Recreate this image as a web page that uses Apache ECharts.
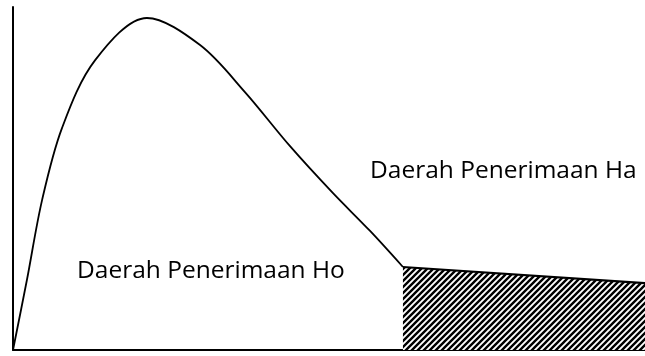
<!DOCTYPE html>
<html>
<head>
<meta charset="utf-8">
<script src="https://cdn.jsdelivr.net/npm/echarts@6/dist/echarts.min.js"></script>
<style>
  html, body { margin: 0; padding: 0; background: #fff; }
  #chart { width: 645px; height: 356px; }
</style>
</head>
<body>
<div id="chart"></div>
<script>
// kurva distribusi (skala 0-100)
const curveX = [0, 2.2, 4.6, 7.75, 13.0, 21.2, 29.6, 36.7, 43.8, 50.6, 56.5, 61.7];
const curveY = [0, 20.4, 43.7, 64.7, 84.5, 96.8, 88.9, 75.2, 59.5, 45.8, 34.7, 24.2];
// daerah kritis (diarsir)
const tailX = [61.7, 100];
const tailY = [24.2, 19.5];
const labels = ['Daerah Penerimaan Ho', 'Daerah Penerimaan Ha'];

// pola arsir miring
function hatch() {
  const c = document.createElement('canvas');
  c.width = 6; c.height = 6;
  const g = c.getContext('2d');
  g.fillStyle = '#fff';
  g.fillRect(0, 0, 6, 6);
  g.strokeStyle = '#000';
  g.lineWidth = 2.4;
  g.beginPath();
  g.moveTo(-3, 9); g.lineTo(9, -3);
  g.moveTo(-9, 9); g.lineTo(3, -3);
  g.moveTo(3, 9); g.lineTo(15, -3);
  g.stroke();
  return c;
}

const chart = echarts.init(document.getElementById('chart'));
chart.setOption({
  animation: false,
  grid: {left: 13, right: 0, top: 7, bottom: 6},
  xAxis: {
    type: 'value', min: 0, max: 100,
    axisLine: {onZero: false, lineStyle: {color: '#000', width: 2}},
    axisTick: {show: false}, axisLabel: {show: false}, splitLine: {show: false}
  },
  yAxis: {
    type: 'value', min: 0, max: 100,
    axisLine: {show: true, lineStyle: {color: '#000', width: 2}},
    axisTick: {show: false}, axisLabel: {show: false}, splitLine: {show: false}
  },
  series: [
    {
      type: 'line', smooth: 0.33, symbol: 'none',
      lineStyle: {color: '#000', width: 1.8},
      data: curveX.map((x, i) => [x, curveY[i]])
    },
    {
      type: 'line', symbol: 'none',
      lineStyle: {color: '#000', width: 2.2},
      areaStyle: {color: {image: hatch(), repeat: 'repeat'}, opacity: 1},
      data: tailX.map((x, i) => [x, tailY[i]])
    }
  ],
  graphic: [
    {type: 'text', x: 77, y: 271.5, style: {text: labels[0], font: '24.5px "Open Sans"', fill: '#000', verticalAlign: 'middle'}},
    {type: 'text', x: 370, y: 171.5, style: {text: labels[1], font: '24.5px "Open Sans"', fill: '#000', verticalAlign: 'middle'}}
  ]
});
</script>
</body>
</html>
